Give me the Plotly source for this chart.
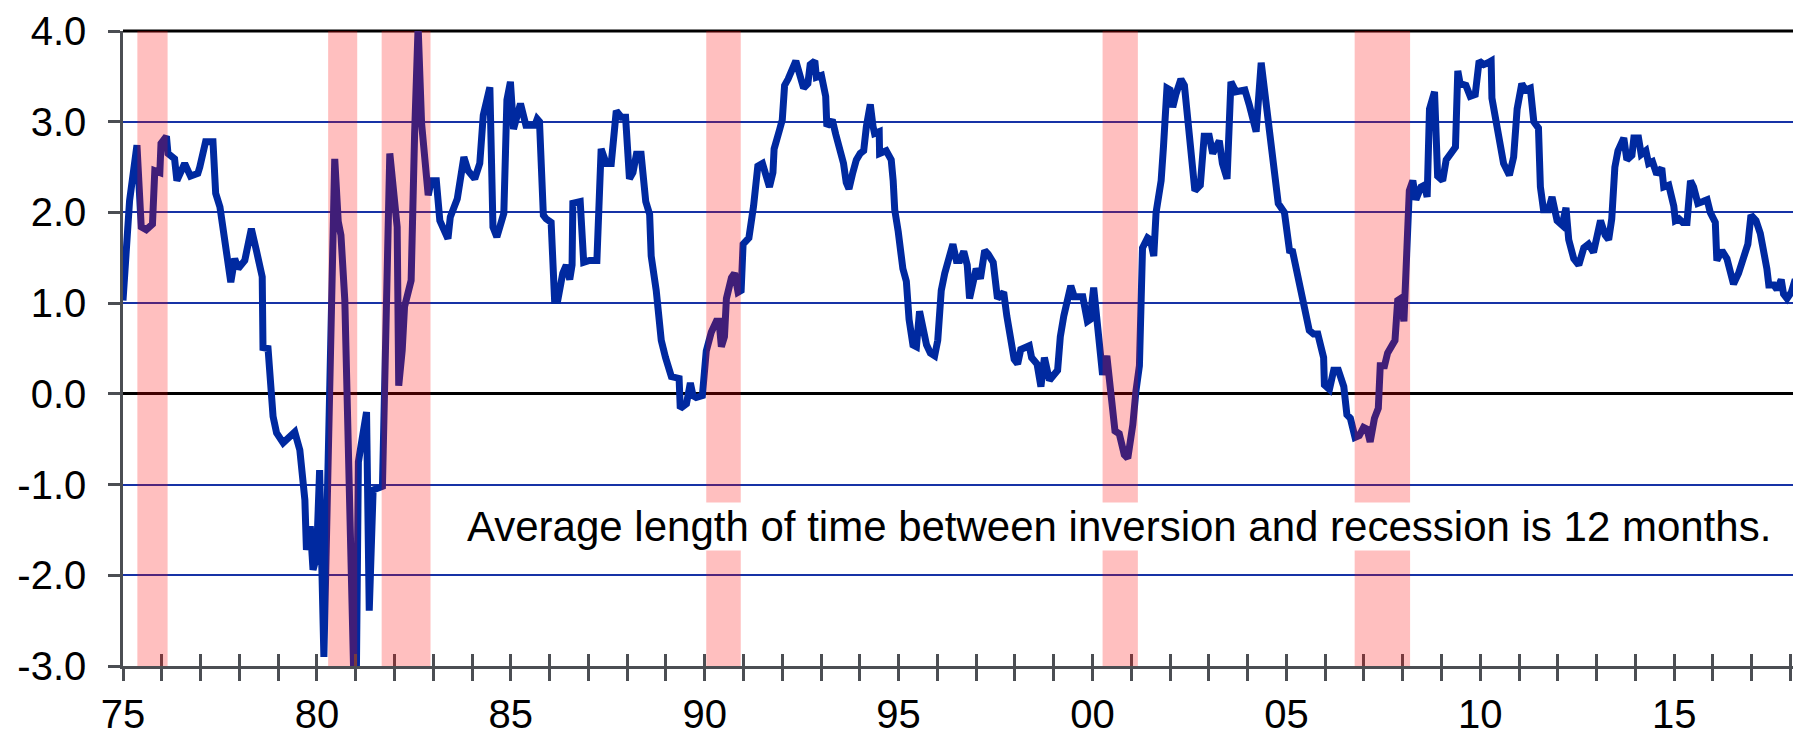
import plotly.graph_objects as go

# ---- data (decimal year, 10y-2y spread in %) ----
years = [
    1975.00, 1975.17, 1975.36, 1975.47, 1975.60, 1975.76, 1975.82, 1975.95, 1975.98, 1976.12,
    1976.16, 1976.33, 1976.39, 1976.59, 1976.74, 1976.93, 1976.98, 1977.13, 1977.32, 1977.39,
    1977.50, 1977.78, 1977.88, 1977.97, 1978.14, 1978.31, 1978.44, 1978.59, 1978.61, 1978.74,
    1978.87, 1978.96, 1979.13, 1979.26, 1979.43, 1979.56, 1979.69, 1979.73, 1979.83, 1979.90,
    1979.99, 1980.07, 1980.18, 1980.46, 1980.55, 1980.62, 1980.72, 1980.95, 1980.99, 1981.02,
    1981.07, 1981.28, 1981.35, 1981.45, 1981.69, 1981.88, 1981.96, 1982.07, 1982.11, 1982.20,
    1982.26, 1982.43, 1982.52, 1982.61, 1982.70, 1982.78, 1982.87, 1982.95, 1983.08, 1983.17,
    1983.25, 1983.38, 1983.44, 1983.62, 1983.79, 1983.90, 1984.07, 1984.20, 1984.29, 1984.46,
    1984.54, 1984.64, 1984.82, 1984.90, 1984.99, 1985.07, 1985.25, 1985.39, 1985.62, 1985.68,
    1985.74, 1985.84, 1985.91, 1986.04, 1986.13, 1986.21, 1986.34, 1986.43, 1986.52, 1986.58,
    1986.60, 1986.79, 1986.88, 1987.03, 1987.22, 1987.33, 1987.46, 1987.59, 1987.72, 1987.85,
    1987.96, 1988.06, 1988.15, 1988.24, 1988.36, 1988.48, 1988.58, 1988.62, 1988.75, 1988.88,
    1988.99, 1989.14, 1989.34, 1989.37, 1989.53, 1989.63, 1989.70, 1989.78, 1989.94, 1990.04,
    1990.17, 1990.30, 1990.37, 1990.43, 1990.51, 1990.56, 1990.69, 1990.77, 1990.86, 1990.94,
    1990.99, 1991.14, 1991.26, 1991.37, 1991.49, 1991.57, 1991.67, 1991.76, 1991.79, 1991.93,
    1992.00, 1992.06, 1992.15, 1992.35, 1992.43, 1992.55, 1992.66, 1992.72, 1992.84, 1992.88,
    1993.01, 1993.12, 1993.15, 1993.29, 1993.38, 1993.52, 1993.58, 1993.65, 1993.72, 1993.82,
    1993.91, 1994.01, 1994.10, 1994.17, 1994.27, 1994.34, 1994.38, 1994.50, 1994.51, 1994.68,
    1994.81, 1994.86, 1994.90, 1994.99, 1995.11, 1995.20, 1995.27, 1995.37, 1995.46, 1995.54,
    1995.61, 1995.72, 1995.82, 1995.93, 1996.01, 1996.10, 1996.19, 1996.32, 1996.40, 1996.49,
    1996.58, 1996.68, 1996.77, 1996.83, 1996.94, 1997.00, 1997.11, 1997.22, 1997.31, 1997.44,
    1997.55, 1997.71, 1997.79, 1997.88, 1997.98, 1998.07, 1998.15, 1998.37, 1998.43, 1998.57,
    1998.67, 1998.76, 1998.89, 1999.10, 1999.17, 1999.26, 1999.44, 1999.53, 1999.75, 1999.87,
    1999.94, 2000.03, 2000.13, 2000.26, 2000.37, 2000.43, 2000.58, 2000.69, 2000.82, 2000.91,
    2001.04, 2001.12, 2001.21, 2001.29, 2001.42, 2001.49, 2001.58, 2001.64, 2001.77, 2001.83,
    2001.92, 2002.00, 2002.07, 2002.15, 2002.28, 2002.37, 2002.45, 2002.56, 2002.64, 2002.78,
    2002.88, 2003.01, 2003.10, 2003.27, 2003.35, 2003.47, 2003.57, 2003.70, 2003.93, 2004.04,
    2004.22, 2004.35, 2004.48, 2004.56, 2004.65, 2004.73, 2004.79, 2004.95, 2005.03, 2005.08,
    2005.16, 2005.25, 2005.38, 2005.46, 2005.59, 2005.70, 2005.81, 2005.89, 2005.96, 2005.98,
    2006.11, 2006.22, 2006.34, 2006.48, 2006.56, 2006.65, 2006.77, 2006.88, 2006.99, 2007.08,
    2007.16, 2007.27, 2007.37, 2007.42, 2007.53, 2007.61, 2007.70, 2007.80, 2007.87, 2007.94,
    2008.03, 2008.13, 2008.17, 2008.26, 2008.34, 2008.47, 2008.56, 2008.63, 2008.69, 2008.82,
    2008.90, 2009.03, 2009.12, 2009.36, 2009.42, 2009.48, 2009.63, 2009.74, 2009.87, 2009.97,
    2010.09, 2010.20, 2010.28, 2010.30, 2010.43, 2010.56, 2010.60, 2010.75, 2010.86, 2010.95,
    2011.07, 2011.16, 2011.29, 2011.38, 2011.50, 2011.55, 2011.63, 2011.76, 2011.85, 2011.98,
    2012.11, 2012.21, 2012.28, 2012.41, 2012.54, 2012.67, 2012.79, 2012.92, 2013.10, 2013.22,
    2013.31, 2013.39, 2013.47, 2013.55, 2013.70, 2013.78, 2013.91, 2013.96, 2014.08, 2014.15,
    2014.27, 2014.34, 2014.44, 2014.55, 2014.68, 2014.73, 2014.86, 2014.99, 2015.03, 2015.12,
    2015.22, 2015.33, 2015.42, 2015.50, 2015.61, 2015.74, 2015.85, 2015.93, 2016.06, 2016.10,
    2016.23, 2016.36, 2016.42, 2016.53, 2016.66, 2016.79, 2016.90, 2016.98, 2017.11, 2017.22,
    2017.28, 2017.35, 2017.39, 2017.44, 2017.57, 2017.65, 2017.76, 2017.82, 2017.91, 2018.02,
    2018.12, 2018.19, 2018.29,
]

spread = [
    1.03, 2.13, 2.74, 1.84, 1.81, 1.87, 2.46, 2.44, 2.76, 2.84,
    2.65, 2.59, 2.35, 2.54, 2.40, 2.43, 2.50, 2.78, 2.78, 2.21,
    2.06, 1.23, 1.49, 1.38, 1.47, 1.82, 1.58, 1.29, 0.51, 0.50,
    -0.25, -0.43, -0.54, -0.49, -0.42, -0.62, -1.17, -1.72, -1.46, -1.94,
    -1.80, -0.84, -2.90, 2.59, 1.90, 1.75, 1.03, -3.10, -3.20, -3.00,
    -0.75, -0.20, -2.39, -1.06, -1.02, 2.65, 2.35, 1.84, 0.09, 0.48,
    0.96, 1.25, 2.87, 4.05, 2.98, 2.57, 2.19, 2.35, 2.35, 1.91,
    1.84, 1.71, 1.95, 2.15, 2.61, 2.46, 2.37, 2.54, 3.07, 3.38,
    1.84, 1.73, 1.99, 3.24, 3.44, 2.92, 3.20, 2.96, 2.96, 3.03,
    3.00, 1.97, 1.93, 1.89, 1.03, 1.03, 1.33, 1.42, 1.26, 1.42,
    2.10, 2.12, 1.45, 1.47, 1.47, 2.70, 2.54, 2.54, 3.12, 3.05,
    3.05, 2.37, 2.44, 2.64, 2.64, 2.12, 1.98, 1.52, 1.14, 0.59,
    0.40, 0.19, 0.17, -0.16, -0.11, 0.12, -0.02, -0.04, -0.02, 0.47,
    0.68, 0.80, 0.80, 0.52, 0.63, 1.05, 1.28, 1.33, 1.12, 1.14,
    1.65, 1.72, 2.07, 2.51, 2.54, 2.40, 2.28, 2.44, 2.70, 2.91,
    3.02, 3.40, 3.47, 3.67, 3.54, 3.37, 3.42, 3.63, 3.67, 3.49,
    3.51, 3.28, 2.95, 3.02, 2.86, 2.63, 2.54, 2.33, 2.26, 2.44,
    2.58, 2.65, 2.68, 2.95, 3.19, 2.95, 2.87, 2.89, 2.65, 2.68,
    2.58, 2.35, 2.03, 1.79, 1.38, 1.24, 0.82, 0.54, 0.52, 0.91,
    0.77, 0.54, 0.45, 0.42, 0.59, 1.14, 1.33, 1.58, 1.65, 1.47,
    1.47, 1.57, 1.42, 1.05, 1.33, 1.38, 1.27, 1.58, 1.54, 1.45,
    1.05, 1.12, 0.86, 0.59, 0.38, 0.33, 0.49, 0.53, 0.40, 0.33,
    0.08, 0.40, 0.15, 0.26, 0.63, 0.86, 1.19, 1.07, 1.07, 0.80,
    0.82, 1.17, 0.82, 0.21, 0.42, 0.21, -0.41, -0.44, -0.67, -0.71,
    -0.34, 0.03, 0.31, 1.61, 1.72, 1.70, 1.52, 2.00, 2.35, 2.72,
    3.37, 3.35, 3.16, 3.30, 3.47, 3.40, 3.05, 2.68, 2.24, 2.30,
    2.84, 2.84, 2.65, 2.79, 2.54, 2.37, 3.44, 3.33, 3.35, 3.19,
    2.89, 3.65, 3.19, 2.89, 2.54, 2.30, 2.10, 2.00, 1.79, 1.58,
    1.57, 1.38, 1.10, 0.91, 0.70, 0.66, 0.66, 0.52, 0.40, 0.10,
    0.05, 0.26, 0.26, 0.08, -0.23, -0.27, -0.48, -0.46, -0.37, -0.39,
    -0.53, -0.27, -0.16, 0.31, 0.31, 0.45, 0.52, 0.59, 1.03, 1.05,
    0.80, 1.79, 2.24, 2.35, 2.14, 2.28, 2.30, 2.17, 3.14, 3.33,
    2.40, 2.35, 2.58, 2.72, 3.56, 3.42, 3.40, 3.28, 3.30, 3.67,
    3.63, 3.65, 3.67, 3.26, 2.95, 2.58, 2.54, 2.41, 2.61, 3.14,
    3.42, 3.35, 3.37, 3.00, 2.93, 2.28, 2.03, 2.03, 2.17, 1.91,
    1.86, 2.05, 1.70, 1.49, 1.42, 1.61, 1.65, 1.56, 1.91, 1.75,
    1.70, 1.93, 2.50, 2.68, 2.82, 2.58, 2.63, 2.82, 2.82, 2.64,
    2.68, 2.54, 2.56, 2.42, 2.49, 2.28, 2.30, 2.07, 1.91, 1.93,
    1.89, 1.89, 2.35, 2.28, 2.10, 2.12, 2.14, 2.00, 1.89, 1.47,
    1.58, 1.49, 1.38, 1.21, 1.33, 1.52, 1.65, 1.97, 1.91, 1.77,
    1.65, 1.42, 1.38, 1.20, 1.20, 1.15, 1.26, 1.10, 1.05, 1.12,
    1.26, 1.15, 1.10,
]

# recession shading (start, end) in decimal years, as drawn
recessions = [
    (1975.37, 1976.15),
    (1980.29, 1981.04),
    (1981.67, 1982.93),
    (1990.04, 1990.93),
    (2000.26, 2001.17),
    (2006.76, 2008.19),
]

tick_years = list(range(1975, 2019))
tick_text = [f"{y % 100:02d}" if y % 5 == 0 else "" for y in tick_years]
y_ticks = [-3, -2, -1, 0, 1, 2, 3, 4]
y_text = [f"{v:.1f}" for v in y_ticks]

note = "Average length of time between inversion and recession is 12 months."

FONT = "Arial, 'Liberation Sans', Helvetica, sans-serif"
AXIS_GREY = "#4b4e53"
LINE_BLUE = "#0029a0"
GRID_BLUE = "#1632a6"
X_RANGE = [1975, 2018.27]

fig = go.Figure()
fig.add_trace(go.Scatter(
    x=years, y=spread, mode="lines",
    line=dict(color=LINE_BLUE, width=7),
    hoverinfo="skip", showlegend=False,
))
# same series registered on the overlay axis (draws nothing) so that
# the inner half of the crossing year ticks is rendered
fig.add_trace(go.Scatter(
    x=years, y=spread, mode="none", xaxis="x2", yaxis="y",
    hoverinfo="skip", showlegend=False,
))

shapes = []
for x0, x1 in recessions:
    shapes.append(dict(
        type="rect", xref="x", yref="paper", x0=x0, x1=x1, y0=0, y1=1,
        fillcolor="rgba(255,0,0,0.25)", line=dict(width=0), layer="above",
    ))
# black top frame line at 4.0
shapes.append(dict(
    type="line", xref="paper", yref="paper", x0=0, x1=1, y0=1, y1=1,
    line=dict(color="black", width=3), layer="between",
))

# the page body has an 8 px margin, so the figure is 8 px smaller each way
fig.update_layout(
    width=1793, height=727,
    margin=dict(l=115, r=0, t=23, b=69, autoexpand=False),
    paper_bgcolor="white", plot_bgcolor="white",
    font=dict(family=FONT, size=40, color="black"),
    showlegend=False,
    shapes=shapes,
    xaxis=dict(
        range=X_RANGE, tickmode="array", tickvals=tick_years, ticktext=tick_text,
        ticks="outside", ticklen=12, tickwidth=2.5, tickcolor=AXIS_GREY,
        showline=True, linecolor=AXIS_GREY, linewidth=3,
        showgrid=False, zeroline=False, ticklabelstandoff=-1,
        tickfont=dict(family=FONT, size=40, color="black"),
    ),
    xaxis2=dict(
        range=X_RANGE, overlaying="x", anchor="y", side="bottom",
        tickmode="array", tickvals=tick_years, showticklabels=False,
        ticks="inside", ticklen=12, tickwidth=2.5, tickcolor=AXIS_GREY,
        showline=False, showgrid=False, zeroline=False,
    ),
    yaxis=dict(
        range=[-3, 4], tickmode="array", tickvals=y_ticks, ticktext=y_text,
        ticks="outside", ticklen=12, tickwidth=2.5, tickcolor=AXIS_GREY,
        showline=True, linecolor=AXIS_GREY, linewidth=2.5,
        showgrid=True, gridcolor=GRID_BLUE, gridwidth=1.6,
        zeroline=True, zerolinecolor="black", zerolinewidth=3.2,
        ticklabelstandoff=14,
        tickfont=dict(family=FONT, size=40, color="black"),
    ),
    annotations=[dict(
        x=2000.68, y=-1.465, xref="x", yref="y", text=note, showarrow=False,
        font=dict(family=FONT, size=42, color="black"),
        bgcolor="white", borderpad=0, xanchor="center", yanchor="middle",
    )],
)

fig.write_html("out.html")
